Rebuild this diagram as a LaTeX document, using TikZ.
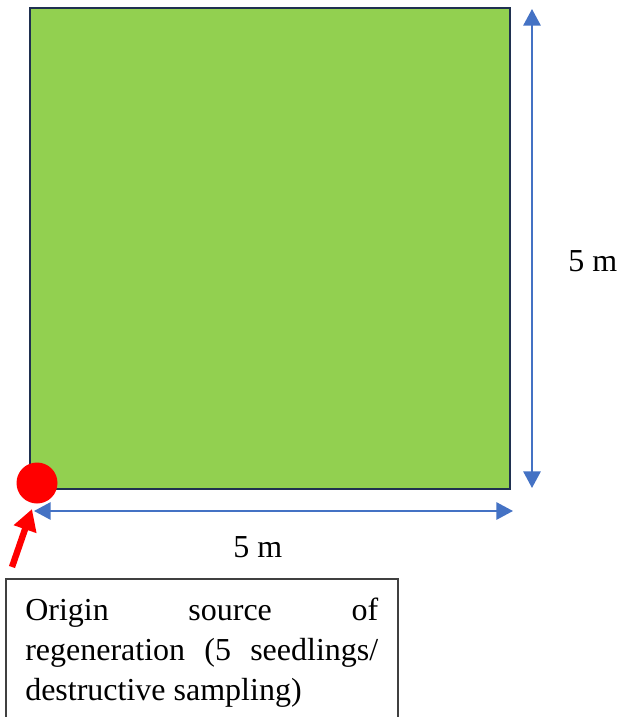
\documentclass[tikz,border=0pt]{standalone}
\usepackage{fontspec}
\setmainfont{Liberation Serif}
\usetikzlibrary{arrows.meta}
\definecolor{plotgreen}{HTML}{92D050}
\definecolor{plotedge}{HTML}{1F3050}
\definecolor{dimblue}{HTML}{4472C4}
\definecolor{notegray}{HTML}{404040}
\tikzset{
  plot/.style={fill=plotgreen, draw=plotedge, line width=1.8pt},
  dimarrow/.style={draw=dimblue, line width=1.5pt,
    {Triangle[length=12.5pt,width=13pt]}-{Triangle[length=12.5pt,width=13pt]}},
  dimlabel/.style={font=\fontsize{24pt}{28pt}\selectfont, inner sep=0pt, anchor=base west},
  origin/.style={circle, fill=red, minimum size=30.75pt, inner sep=0pt},
  pointer/.style={draw=red, line width=4.8pt, -{Triangle[length=16pt,width=17pt]}},
  notebox/.style={draw=notegray, line width=1pt, fill=white},
  noteline/.style={font=\fontsize{24pt}{30pt}\selectfont, inner sep=0pt, anchor=base west}
}
\begin{document}
\begin{tikzpicture}[x=0.75pt, y=-0.75pt]
  \path[use as bounding box, clip] (0,0) rectangle (619,717);

  % the 5 m x 5 m plot
  \draw[plot] (30,8) rectangle (510,489);

  % dimension arrows
  \coordinate (vtop) at (532,9);
  \coordinate (vbot) at (532,488);
  \coordinate (hleft) at (34,511);
  \coordinate (hright) at (513,511);
  \draw[dimarrow] (vtop) -- (vbot);
  \draw[dimarrow] (hleft) -- (hright);
  \node[dimlabel] (sidelabel) at (568,271) {5 m};
  \node[dimlabel] (baselabel) at (233,557) {5 m};

  % origin point
  \node[origin] (orig) at (37,483) {};

  % explanatory note
  \draw[notebox] (6,579) rectangle (398,725);
  \node[noteline] (l1) at (25,620) {\makebox[264.75pt][s]{Origin source of}};
  \node[noteline] (l2) at (25,660) {\makebox[264.75pt][s]{regeneration (5 seedlings/}};
  \node[noteline] (l3) at (25,700) {destructive sampling)};

  % pointer from the note to the origin
  \coordinate (ptail) at (12,567);
  \coordinate (ptip) at (32,509);
  \draw[pointer] (ptail) -- (ptip);
\end{tikzpicture}
\end{document}
